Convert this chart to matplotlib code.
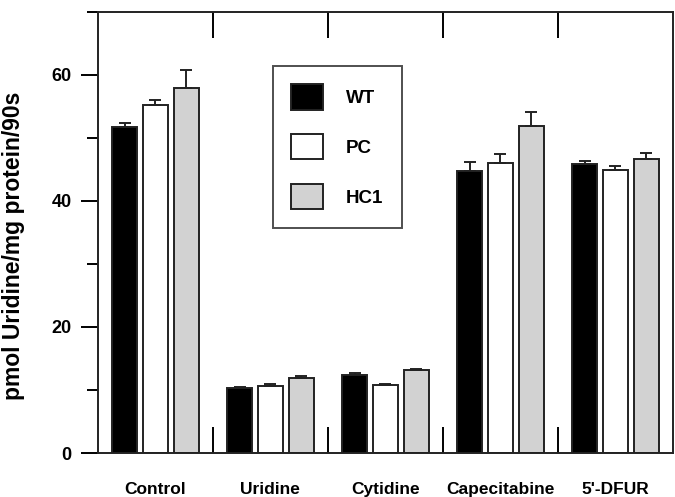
import matplotlib.pyplot as plt
import numpy as np
from matplotlib.patches import Patch

plt.rcParams['font.family'] = ['Liberation Sans', 'DejaVu Sans']
plt.rcParams['font.weight'] = 'bold'

# Veriler
kategoriler = ["Control", "Uridine", "Cytidine", "Capecitabine", "5'-DFUR"]
seriler = ["WT", "PC", "HC1"]
wt = [51.7, 10.3, 12.4, 44.8, 45.9]
pc = [55.2, 10.6, 10.8, 46.0, 44.9]
hc1 = [57.9, 11.9, 13.2, 51.9, 46.7]
wt_hata = [0.6, 0.1, 0.3, 1.4, 0.4]
pc_hata = [0.8, 0.3, 0.15, 1.4, 0.7]
hc1_hata = [2.9, 0.3, 0.15, 2.2, 0.9]

renkler = ["black", "white", "#d2d2d2"]

fig = plt.figure(figsize=(6.75, 4.97), dpi=100)
ax = fig.add_axes([0.145, 0.0885, 0.852, 0.8875])

x = np.arange(len(kategoriler))
genislik = 0.215
aralik = 0.268
for i, (degerler, hatalar) in enumerate(zip([wt, pc, hc1], [wt_hata, pc_hata, hc1_hata])):
    konum = x + (i - 1) * aralik
    ax.bar(konum, degerler, width=genislik, color=renkler[i], edgecolor="#222222",
           linewidth=1.4, zorder=2)
    ax.errorbar(konum, degerler, yerr=[np.zeros(len(hatalar)), hatalar], fmt="none",
                ecolor="#222222", elinewidth=1.4, capsize=4.3, capthick=1.4, zorder=3)

ax.set_xlim(-0.5, len(kategoriler) - 0.5)
ax.set_ylim(0, 70)

# grup ayiricilari
ax.set_xticks(x[:-1] + 0.5)
ax.set_xticklabels([])
ax.tick_params(axis="x", which="major", direction="in", length=19, width=1.4,
               top=True, bottom=True)
ax.set_xticks(x, minor=True)
ax.set_xticklabels(kategoriler, minor=True, fontsize=12.5, fontweight="bold")
ax.tick_params(axis="x", which="minor", length=0, pad=21)

ax.set_yticks([0, 20, 40, 60])
ax.set_yticks([10, 30, 50, 70], minor=True)
ax.tick_params(axis="y", which="major", direction="out", length=12, width=1.4,
               labelsize=13, pad=7)
ax.tick_params(axis="y", which="minor", direction="out", length=8, width=1.4)
for lbl in ax.get_yticklabels():
    lbl.set_fontweight("bold")

for s in ax.spines.values():
    s.set_linewidth(1.4)
    s.set_color("#222222")

ax.set_ylabel("pmol Uridine/mg protein/90s", fontsize=16.5, fontweight="bold")
ax.yaxis.set_label_coords(-0.127, 0.47)

tutamaclar = [Patch(facecolor=renkler[i], edgecolor="#222222", linewidth=1.4) for i in range(3)]
leg = ax.legend(tutamaclar, seriler, loc="upper left", bbox_to_anchor=(0.304, 0.878),
                borderaxespad=0, frameon=True, fancybox=False, edgecolor="#222222",
                handlelength=1.7, handleheight=1.7, labelspacing=1.3,
                handletextpad=1.2, borderpad=1.0, prop={"weight": "bold", "size": 13.5})
leg.get_frame().set_linewidth(1.4)

plt.savefig("out.png", dpi=100)
